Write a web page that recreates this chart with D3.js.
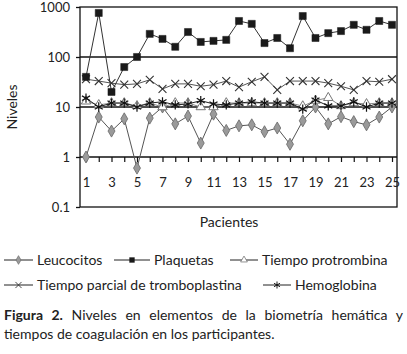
<!DOCTYPE html>
<html><head><meta charset="utf-8">
<script src="https://cdn.jsdelivr.net/npm/d3@7"></script>
<style>body{margin:0;background:#fff}svg{display:block;font-family:Lato,"Open Sans",sans-serif}</style>
</head><body>
<svg id="c" width="407" height="354"></svg>
<script>
const patients = d3.range(1, 26);
const leucocitos = [1,6.3,3.3,5.8,0.6,6,10,4.6,6.6,1.9,7.2,3.4,4.2,4.4,3.2,3.8,1.8,5.3,10,4.6,6.4,5.1,4.4,6.3,10];
const plaquetas = [40,760,20,63,100,290,230,160,316,200,210,220,525,460,190,240,150,660,240,300,330,440,350,525,440];
const protrombina = [13,11,12,12,10.5,12,10,12,12,10,10,12,12,12,12,12,12,10.4,13.5,15.3,10.5,12,11.5,12,12];
const tromboplastina = [36,33,30,28,29,35,23,29,29,26,28,33,25,32,40,22,33,33,33,30,26,22,33,32,36];
const hemoglobina = [15,10,12,12,10,12,12.7,11,11.5,13.4,11.5,11,12,12.7,12,12,12,9.1,13.8,10.5,10.5,12.7,10,12,12];
const yTicks = [0.1, 1, 10, 100, 1000];
const yTickLabels = ["0.1", "1", "10", "100", "1000"];
const xLabelTicks = [1,3,5,7,9,11,13,15,17,19,21,23,25];
const legendNames = ["Leucocitos","Plaquetas","Tiempo protrombina","Tiempo parcial de tromboplastina","Hemoglobina"];

const svg = d3.select("#c");
const L = 80, R = 397, T = 7, B = 207;
const x = d3.scaleLinear().domain([1, 25]).range([86, 392]);
const y = d3.scaleLog().domain([0.1, 1000]).range([B, T]);

// grid lines
svg.append("g").selectAll("line").data([1, 10, 100]).join("line")
  .attr("x1", L).attr("x2", R).attr("y1", d => y(d)).attr("y2", d => y(d))
  .attr("stroke", "#111").attr("stroke-width", 1.3);

// frame
svg.append("rect").attr("x", L).attr("y", T).attr("width", R - L).attr("height", B - T)
  .attr("fill", "none").attr("stroke", "#111").attr("stroke-width", 1.3);

// y axis
const yAx = svg.append("g").attr("transform", `translate(${L},0)`)
  .call(d3.axisLeft(y).tickValues(yTicks).tickSize(4).tickFormat((d, i) => yTickLabels[i]));
yAx.select(".domain").remove();
yAx.selectAll("line").attr("stroke", "#111").attr("stroke-width", 1.3);
yAx.selectAll("text").attr("font-size", 13).attr("fill", "#222").attr("x", -10)
  .attr("font-family", "Lato, sans-serif");

// x axis along y=1
const xAx = svg.append("g").attr("transform", `translate(0,${y(1)})`)
  .call(d3.axisBottom(x).tickValues(patients).tickSize(5)
    .tickFormat(d => xLabelTicks.includes(d) ? String(d) : ""));
xAx.select(".domain").remove();
xAx.selectAll("line").attr("stroke", "#111").attr("stroke-width", 1.2);
xAx.selectAll("text").attr("font-size", 13).attr("fill", "#222").attr("y", 21)
  .attr("font-family", "Lato, sans-serif");

// axis titles
svg.append("text").attr("transform", "translate(17,107) rotate(-90)")
  .attr("text-anchor", "middle").attr("font-size", 14).attr("fill", "#222").text("Niveles");
svg.append("text").attr("x", 229).attr("y", 227).attr("text-anchor", "middle")
  .attr("font-size", 14).attr("fill", "#222").text("Pacientes");

const series = [
  {vals: leucocitos, line: "#555", sym: d3.symbolDiamond, size: 42, fill: "#9a9a9a", stroke: "#666", sw: 0.8, lsize: 22},
  {vals: tromboplastina, line: "#555", sym: d3.symbolTimes, size: 42, fill: "none", stroke: "#333", sw: 1.1, lsize: 26},
  {vals: protrombina, line: "#888", sym: d3.symbolTriangle, size: 38, fill: "#fff", stroke: "#777", sw: 1, lsize: 20},
  {vals: hemoglobina, line: "#222", sym: d3.symbolAsterisk, size: 60, fill: "none", stroke: "#111", sw: 1.2, lsize: 34},
  {vals: plaquetas, line: "#333", sym: d3.symbolSquare, size: 50, fill: "#1a1a1a", stroke: "#1a1a1a", sw: 0.5, lsize: 24}
];
const lineGen = d3.line().x((d, i) => x(i + 1)).y(d => y(d));
series.forEach(s => {
  svg.append("path").datum(s.vals).attr("d", lineGen).attr("fill", "none")
    .attr("stroke", s.line).attr("stroke-width", 1);
  svg.append("g").selectAll("path").data(s.vals).join("path")
    .attr("transform", (d, i) => `translate(${x(i + 1)},${y(d)})`)
    .attr("d", d3.symbol(s.sym, s.size)())
    .attr("fill", s.fill).attr("stroke", s.stroke).attr("stroke-width", s.sw);
});

// legend
const legendItems = [
  {s: series[0], name: legendNames[0], x1: 4, x2: 33, ty: 260},
  {s: series[4], name: legendNames[1], x1: 114, x2: 150, ty: 260},
  {s: series[2], name: legendNames[2], x1: 230, x2: 258, ty: 260},
  {s: series[1], name: legendNames[3], x1: 4, x2: 33, ty: 285},
  {s: series[3], name: legendNames[4], x1: 263, x2: 291, ty: 285}
];
legendItems.forEach(it => {
  const g = svg.append("g");
  g.append("line").attr("x1", it.x1).attr("x2", it.x2).attr("y1", it.ty).attr("y2", it.ty)
    .attr("stroke", "#222").attr("stroke-width", 1);
  g.append("path").attr("transform", `translate(${(it.x1 + it.x2) / 2},${it.ty})`)
    .attr("d", d3.symbol(it.s.sym, it.s.lsize)())
    .attr("fill", it.s.fill).attr("stroke", it.s.stroke).attr("stroke-width", it.s.sw * 0.8);
  g.append("text").attr("x", it.x2 + 4).attr("y", it.ty + 5).attr("font-size", 14)
    .attr("fill", "#222").text(it.name);
});

// caption
const cap1 = svg.append("text").attr("x", 4).attr("y", 320).attr("font-size", 14).attr("fill", "#222");
cap1.append("tspan").attr("font-weight", "bold").text("Figura 2.");
cap1.append("tspan").text(" Niveles en elementos de la biometría hemática y");
const w = cap1.node().getComputedTextLength();
const spaces = 9;
cap1.attr("word-spacing", Math.max(0, (403 - 4 - w) / spaces));
svg.append("text").attr("x", 4).attr("y", 339).attr("font-size", 14).attr("fill", "#222")
  .text("tiempos de coagulación en los participantes.");
</script>
</body></html>
